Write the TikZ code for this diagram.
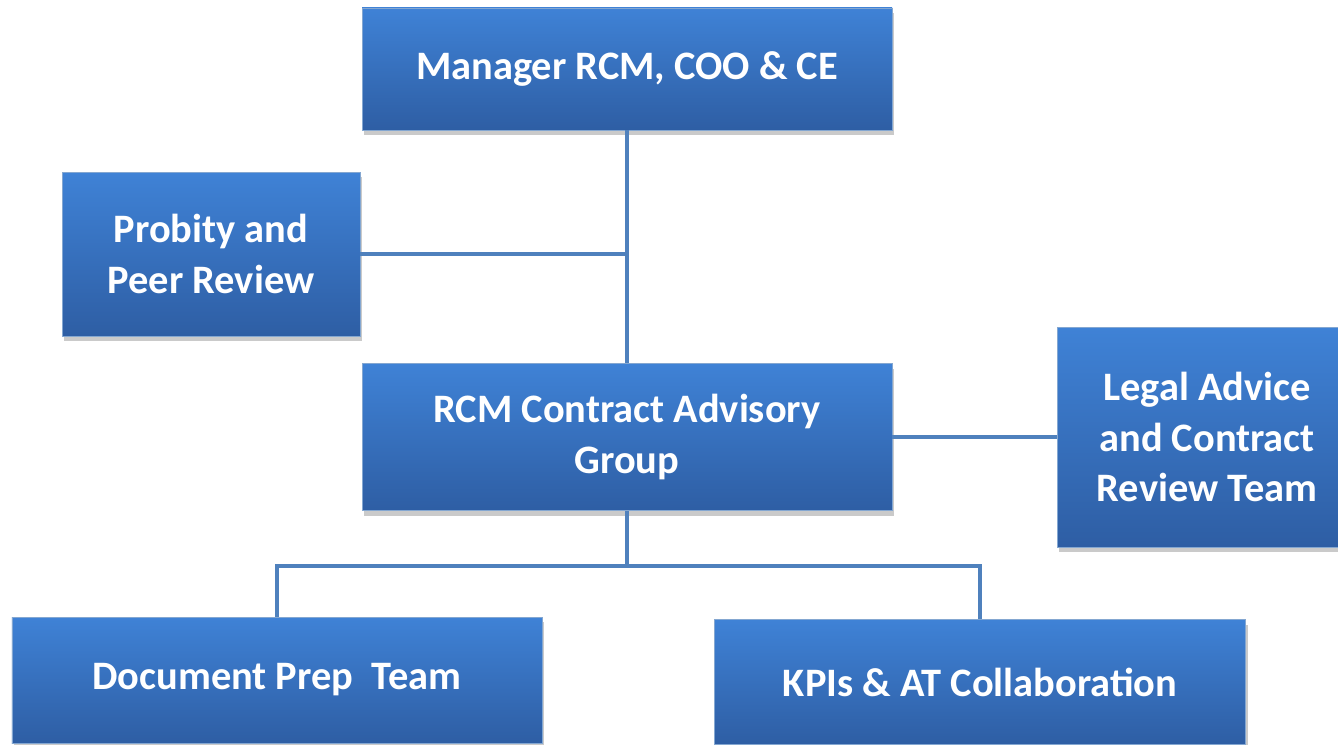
\documentclass[tikz,border=0pt]{standalone}
\usepackage{fontspec}
\setmainfont{Carlito}
\usepackage{tikz}
\usetikzlibrary{shadows}

\definecolor{boxtop}{HTML}{3F82D6}
\definecolor{boxbottom}{HTML}{2E5EA4}
\definecolor{linkblue}{HTML}{4F81BD}

\tikzset{
  unit/.style={rectangle, draw=linkblue!70!white, line width=0.4pt,
    top color=boxtop, bottom color=boxbottom, text=white, align=center,
    font=\fontsize{23}{28.5}\selectfont\bfseries, inner sep=0pt,
    drop shadow={shadow xshift=0.04cm, shadow yshift=-0.1cm, opacity=0.35, fill=black!60}},
  link/.style={draw=linkblue, line width=2.1pt}
}

\begin{document}
\begin{tikzpicture}
  \useasboundingbox (0cm, 0cm) rectangle (26.76cm, 14.88cm);
  \clip (0cm, 0cm) rectangle (26.76cm, 14.88cm);

  \node[unit, minimum width=10.6cm, minimum height=2.44cm] (manager) at (12.54cm, 13.5cm) {Manager RCM, COO \& CE};
  \node[unit, minimum width=5.96cm, minimum height=3.28cm] (probity) at (4.22cm, 9.8cm) {Probity and\\Peer Review};
  \node[unit, minimum width=10.6cm, minimum height=2.94cm] (advisory) at (12.54cm, 6.14cm) {RCM Contract Advisory\\Group};
  \node[unit, minimum width=6cm, minimum height=4.4cm] (legal) at (24.14cm, 6.14cm) {Legal Advice\\and Contract\\Review Team};
  \node[unit, minimum width=10.6cm, minimum height=2.52cm] (docprep) at (5.54cm, 1.28cm) {Document Prep\ \ Team};
  \node[unit, minimum width=10.62cm, minimum height=2.5cm] (kpis) at (19.6cm, 1.24cm) {KPIs \& AT Collaboration};

  \coordinate (fork) at (12.54cm, 3.56cm);

  \draw[link] (manager.south) -- (advisory.north);
  \draw[link] (probity.east) -- (manager.south |- probity.east);
  \draw[link] (advisory.east) -- (legal.west);
  \draw[link] (advisory.south) -- (fork);
  \draw[link] (docprep.north) |- (fork) -| (kpis.north);
\end{tikzpicture}
\end{document}
